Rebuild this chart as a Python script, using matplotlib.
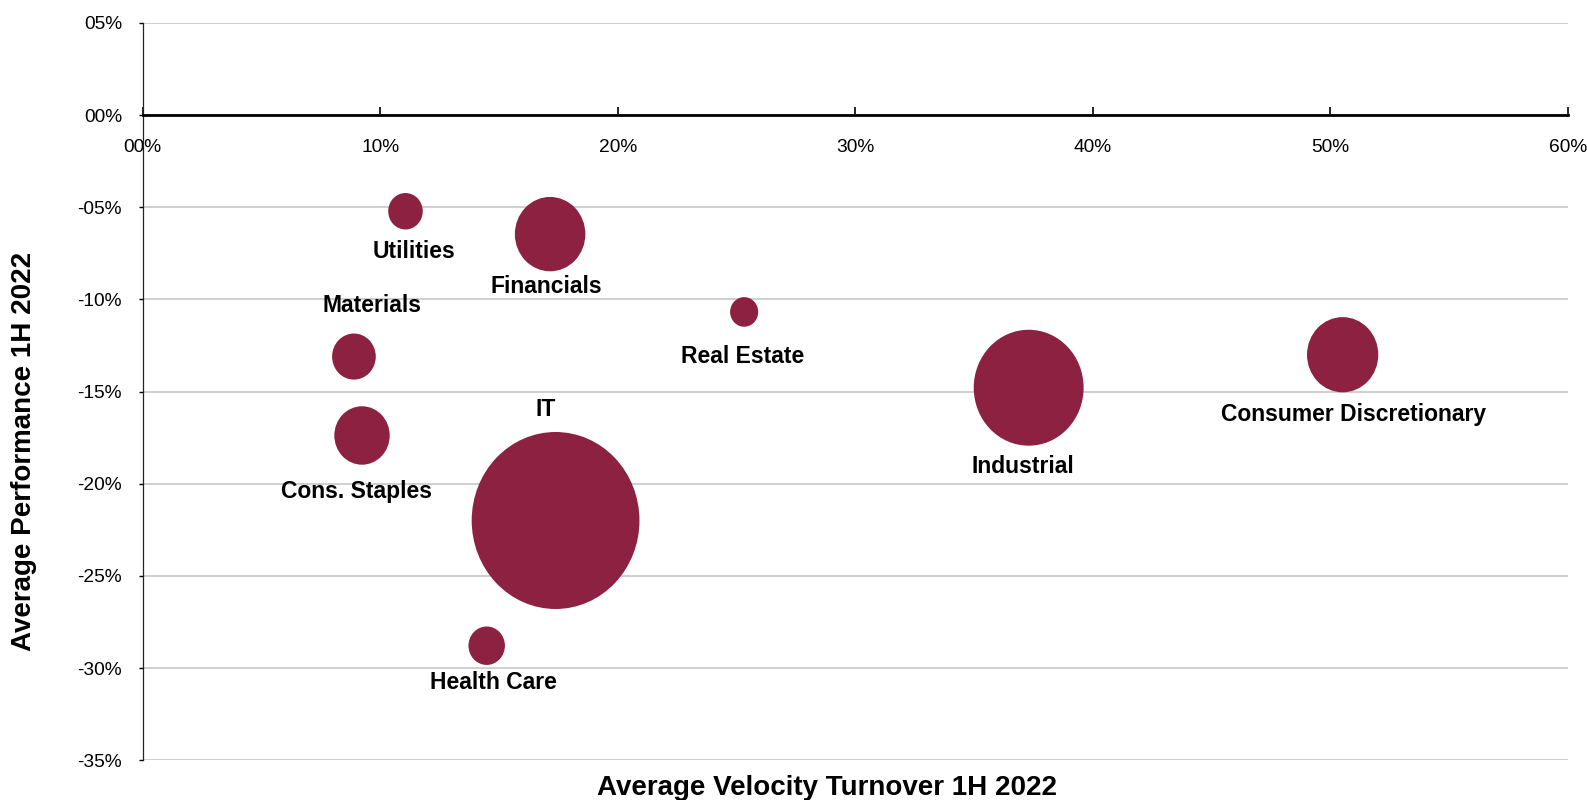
import matplotlib
matplotlib.use("Agg")
import matplotlib.pyplot as plt
from matplotlib.path import Path
from matplotlib.markers import MarkerStyle
from matplotlib.transforms import Affine2D

# sectors, velocity turnover (%), performance (%), relative bubble size
sectors = ["Utilities", "Financials", "Real Estate", "Materials", "Cons. Staples",
           "IT", "Health Care", "Industrial", "Consumer Discretionary"]
velocity = [11.06, 17.15, 25.32, 8.89, 9.23, 17.38, 14.48, 37.30, 50.52]
performance = [-5.22, -6.46, -10.68, -13.10, -17.38, -21.99, -28.78, -14.79, -13.00]
bubble_size = [4.24, 17.65, 2.80, 6.78, 10.9, 100.0, 4.72, 42.9, 18.05]

x_ticks = [0, 10, 20, 30, 40, 50, 60]
x_ticklabels = ["00%", "10%", "20%", "30%", "40%", "50%", "60%"]
y_ticks = [5, 0, -5, -10, -15, -20, -25, -30, -35]
y_ticklabels = ["05%", "00%", "-05%", "-10%", "-15%", "-20%", "-25%", "-30%", "-35%"]

# label offsets from bubble centre in pixels (dx, dy down)
label_offsets = [(8.6, 38.2), (-4.2, 50.5), (-1.1, 43), (18.3, -53.2), (-5.8, 54),
                 (-9.5, -112.2), (6.6, 35.3), (-5.4, 77.2), (11, 58.1)]

BUBBLE = "#8C2141"
plt.rcParams["font.family"] = ["Liberation Sans", "DejaVu Sans"]

fig = plt.figure(figsize=(15.87, 8.0), dpi=100)
ax = fig.add_axes([142.8 / 1587, 1 - 760.4 / 800, 1425 / 1587, 737.6 / 800])

# slightly tall ellipse marker, like the reference bubbles
ell = Path.unit_circle().transformed(Affine2D().scale(1.0, 1.055))
marker = MarkerStyle(ell)
max_h_pt = 177 * 0.72
sizes = [max_h_pt ** 2 * b / max(bubble_size) for b in bubble_size]

ax.scatter(velocity, performance, s=sizes, marker=marker, color=BUBBLE,
           edgecolors="none", zorder=3)

for name, x, y, (dx, dy) in zip(sectors, velocity, performance, label_offsets):
    ax.annotate(name, (x, y), xytext=(dx * 0.72, -(dy + 8.2) * 0.72),
                textcoords="offset points", ha="center", va="baseline",
                fontsize=16.5, fontweight="bold", color="black", zorder=4)

ax.set_xlim(0, 60)
ax.set_ylim(-35, 5)

# horizontal gridlines only
ax.set_yticks(y_ticks)
ax.set_yticklabels(y_ticklabels)
ax.yaxis.grid(True, color="#cfcfcf", linewidth=1.4, zorder=0)
ax.set_axisbelow(True)

ax.set_xticks(x_ticks)
ax.set_xticklabels(x_ticklabels)

# x axis sits on the zero line
ax.spines["bottom"].set_position(("data", 0))
ax.spines["bottom"].set_linewidth(2.0)
ax.spines["bottom"].set_color("black")
ax.spines["left"].set_linewidth(0.9)
ax.spines["left"].set_color("#222222")
ax.spines["top"].set_visible(False)
ax.spines["right"].set_visible(False)

ax.tick_params(axis="x", direction="in", length=5.5, width=1.2, pad=17,
               labelsize=13.8, colors="black")
ax.tick_params(axis="y", direction="out", length=3, width=1.0, pad=12,
               labelsize=13.8, colors="black")

fig.text(24 / 1587, 1 - 451.5 / 800, "Average Performance 1H 2022", rotation=90,
         ha="center", va="center", fontsize=20, fontweight="bold")
fig.text(827 / 1587, 1 - 795 / 800, "Average Velocity Turnover 1H 2022",
         ha="center", va="baseline", fontsize=20, fontweight="bold")

fig.savefig("out.png", dpi=100)
